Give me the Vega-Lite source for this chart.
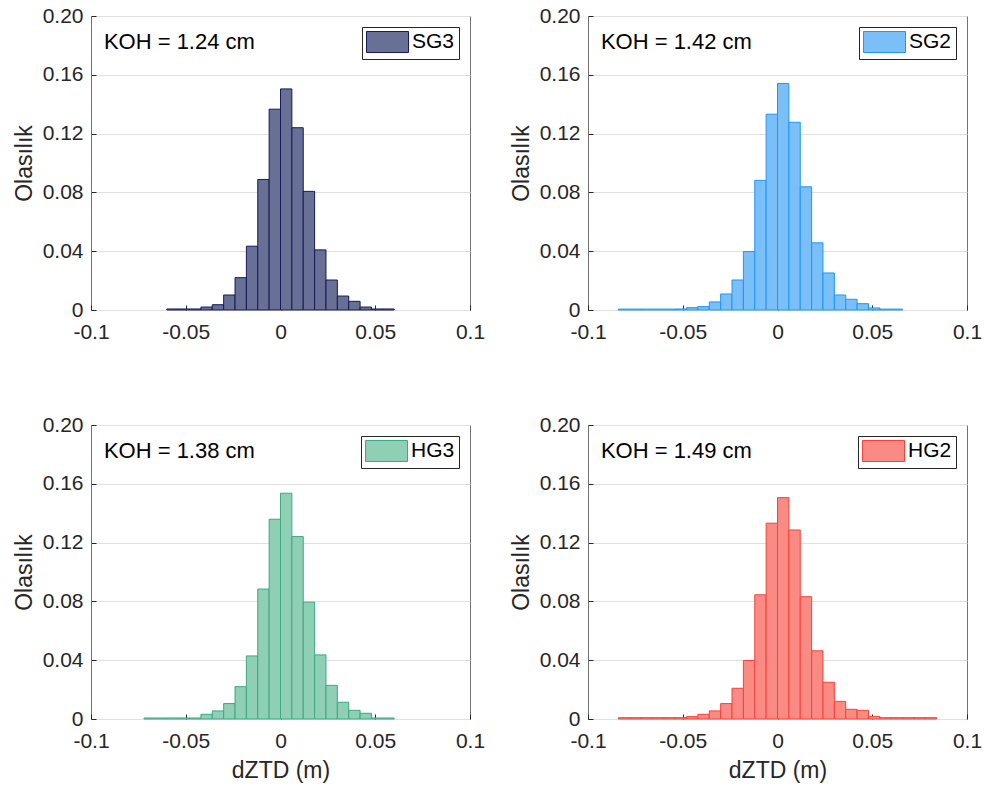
{
  "$schema": "https://vega.github.io/schema/vega-lite/v6.json",
  "background": "white",
  "padding": {"left": 12, "top": 4, "right": 0, "bottom": 0},
  "spacing": {"row": 70, "column": 23},
  "resolve": {"scale": {"fill": "independent"}, "legend": {"fill": "independent"}},
  "config": {
    "font": "Liberation Sans",
    "view": {"stroke": "#737373", "strokeWidth": 1},
    "axis": {
      "labelFont": "Liberation Sans", "titleFont": "Liberation Sans",
      "labelFontSize": 21, "titleFontSize": 23, "titleFontWeight": "normal",
      "labelColor": "#262626", "titleColor": "#262626",
      "domain": false, "tickColor": "#262626", "tickSize": -5, "grid": false
    },
    "axisX": {"labelPadding": 16, "titlePadding": 8, "labelFlush": false},
    "axisY": {"grid": true, "gridColor": "#e0e0e0", "labelPadding": 13, "titlePadding": 6},
    "legend": {
      "orient": "top-right", "offset": 11, "padding": 4,
      "strokeColor": "#262626", "fillColor": "white",
      "labelFont": "Liberation Sans", "labelFontSize": 21, "labelColor": "#000000",
      "symbolType": "M-1,-1H3V1H-1Z", "symbolSize": 441, "labelOffset": 24,
      "symbolOpacity": 1, "symbolStrokeWidth": 1
    }
  },
  "datasets": {
    "hist": [
      {"s": "SG3", "a": -0.060, "b": -0.054, "p": 0.0007},
      {"s": "SG3", "a": -0.054, "b": -0.048, "p": 0.0007},
      {"s": "SG3", "a": -0.048, "b": -0.042, "p": 0.0007},
      {"s": "SG3", "a": -0.042, "b": -0.036, "p": 0.0020},
      {"s": "SG3", "a": -0.036, "b": -0.030, "p": 0.0036},
      {"s": "SG3", "a": -0.030, "b": -0.024, "p": 0.0102},
      {"s": "SG3", "a": -0.024, "b": -0.018, "p": 0.0220},
      {"s": "SG3", "a": -0.018, "b": -0.012, "p": 0.0434},
      {"s": "SG3", "a": -0.012, "b": -0.006, "p": 0.0888},
      {"s": "SG3", "a": -0.006, "b": 0.000, "p": 0.1366},
      {"s": "SG3", "a": 0.000, "b": 0.006, "p": 0.1504},
      {"s": "SG3", "a": 0.006, "b": 0.012, "p": 0.1240},
      {"s": "SG3", "a": 0.012, "b": 0.018, "p": 0.0807},
      {"s": "SG3", "a": 0.018, "b": 0.024, "p": 0.0409},
      {"s": "SG3", "a": 0.024, "b": 0.030, "p": 0.0204},
      {"s": "SG3", "a": 0.030, "b": 0.036, "p": 0.0095},
      {"s": "SG3", "a": 0.036, "b": 0.042, "p": 0.0059},
      {"s": "SG3", "a": 0.042, "b": 0.048, "p": 0.0020},
      {"s": "SG3", "a": 0.048, "b": 0.054, "p": 0.0007},
      {"s": "SG3", "a": 0.054, "b": 0.060, "p": 0.0007},

      {"s": "SG2", "a": -0.084, "b": -0.078, "p": 0.0006},
      {"s": "SG2", "a": -0.078, "b": -0.072, "p": 0.0006},
      {"s": "SG2", "a": -0.072, "b": -0.066, "p": 0.0006},
      {"s": "SG2", "a": -0.066, "b": -0.060, "p": 0.0006},
      {"s": "SG2", "a": -0.060, "b": -0.054, "p": 0.0006},
      {"s": "SG2", "a": -0.054, "b": -0.048, "p": 0.0007},
      {"s": "SG2", "a": -0.048, "b": -0.042, "p": 0.0016},
      {"s": "SG2", "a": -0.042, "b": -0.036, "p": 0.0023},
      {"s": "SG2", "a": -0.036, "b": -0.030, "p": 0.0055},
      {"s": "SG2", "a": -0.030, "b": -0.024, "p": 0.0109},
      {"s": "SG2", "a": -0.024, "b": -0.018, "p": 0.0204},
      {"s": "SG2", "a": -0.018, "b": -0.012, "p": 0.0398},
      {"s": "SG2", "a": -0.012, "b": -0.006, "p": 0.0882},
      {"s": "SG2", "a": -0.006, "b": 0.000, "p": 0.1332},
      {"s": "SG2", "a": 0.000, "b": 0.006, "p": 0.1541},
      {"s": "SG2", "a": 0.006, "b": 0.012, "p": 0.1277},
      {"s": "SG2", "a": 0.012, "b": 0.018, "p": 0.0838},
      {"s": "SG2", "a": 0.018, "b": 0.024, "p": 0.0457},
      {"s": "SG2", "a": 0.024, "b": 0.030, "p": 0.0252},
      {"s": "SG2", "a": 0.030, "b": 0.036, "p": 0.0102},
      {"s": "SG2", "a": 0.036, "b": 0.042, "p": 0.0073},
      {"s": "SG2", "a": 0.042, "b": 0.048, "p": 0.0043},
      {"s": "SG2", "a": 0.048, "b": 0.054, "p": 0.0014},
      {"s": "SG2", "a": 0.054, "b": 0.060, "p": 0.0006},
      {"s": "SG2", "a": 0.060, "b": 0.066, "p": 0.0006},

      {"s": "HG3", "a": -0.072, "b": -0.066, "p": 0.0007},
      {"s": "HG3", "a": -0.066, "b": -0.060, "p": 0.0007},
      {"s": "HG3", "a": -0.060, "b": -0.054, "p": 0.0007},
      {"s": "HG3", "a": -0.054, "b": -0.048, "p": 0.0007},
      {"s": "HG3", "a": -0.048, "b": -0.042, "p": 0.0007},
      {"s": "HG3", "a": -0.042, "b": -0.036, "p": 0.0032},
      {"s": "HG3", "a": -0.036, "b": -0.030, "p": 0.0055},
      {"s": "HG3", "a": -0.030, "b": -0.024, "p": 0.0105},
      {"s": "HG3", "a": -0.024, "b": -0.018, "p": 0.0220},
      {"s": "HG3", "a": -0.018, "b": -0.012, "p": 0.0429},
      {"s": "HG3", "a": -0.012, "b": -0.006, "p": 0.0884},
      {"s": "HG3", "a": -0.006, "b": 0.000, "p": 0.1359},
      {"s": "HG3", "a": 0.000, "b": 0.006, "p": 0.1536},
      {"s": "HG3", "a": 0.006, "b": 0.012, "p": 0.1241},
      {"s": "HG3", "a": 0.012, "b": 0.018, "p": 0.0795},
      {"s": "HG3", "a": 0.018, "b": 0.024, "p": 0.0436},
      {"s": "HG3", "a": 0.024, "b": 0.030, "p": 0.0229},
      {"s": "HG3", "a": 0.030, "b": 0.036, "p": 0.0114},
      {"s": "HG3", "a": 0.036, "b": 0.042, "p": 0.0059},
      {"s": "HG3", "a": 0.042, "b": 0.048, "p": 0.0039},
      {"s": "HG3", "a": 0.048, "b": 0.054, "p": 0.0007},
      {"s": "HG3", "a": 0.054, "b": 0.060, "p": 0.0007},

      {"s": "HG2", "a": -0.084, "b": -0.078, "p": 0.0009},
      {"s": "HG2", "a": -0.078, "b": -0.072, "p": 0.0009},
      {"s": "HG2", "a": -0.072, "b": -0.066, "p": 0.0009},
      {"s": "HG2", "a": -0.066, "b": -0.060, "p": 0.0009},
      {"s": "HG2", "a": -0.060, "b": -0.054, "p": 0.0009},
      {"s": "HG2", "a": -0.054, "b": -0.048, "p": 0.0009},
      {"s": "HG2", "a": -0.048, "b": -0.042, "p": 0.0016},
      {"s": "HG2", "a": -0.042, "b": -0.036, "p": 0.0032},
      {"s": "HG2", "a": -0.036, "b": -0.030, "p": 0.0055},
      {"s": "HG2", "a": -0.030, "b": -0.024, "p": 0.0105},
      {"s": "HG2", "a": -0.024, "b": -0.018, "p": 0.0209},
      {"s": "HG2", "a": -0.018, "b": -0.012, "p": 0.0398},
      {"s": "HG2", "a": -0.012, "b": -0.006, "p": 0.0845},
      {"s": "HG2", "a": -0.006, "b": 0.000, "p": 0.1332},
      {"s": "HG2", "a": 0.000, "b": 0.006, "p": 0.1506},
      {"s": "HG2", "a": 0.006, "b": 0.012, "p": 0.1286},
      {"s": "HG2", "a": 0.012, "b": 0.018, "p": 0.0832},
      {"s": "HG2", "a": 0.018, "b": 0.024, "p": 0.0464},
      {"s": "HG2", "a": 0.024, "b": 0.030, "p": 0.0250},
      {"s": "HG2", "a": 0.030, "b": 0.036, "p": 0.0120},
      {"s": "HG2", "a": 0.036, "b": 0.042, "p": 0.0066},
      {"s": "HG2", "a": 0.042, "b": 0.048, "p": 0.0059},
      {"s": "HG2", "a": 0.048, "b": 0.054, "p": 0.0018},
      {"s": "HG2", "a": 0.054, "b": 0.060, "p": 0.0009},
      {"s": "HG2", "a": 0.060, "b": 0.066, "p": 0.0009},
      {"s": "HG2", "a": 0.066, "b": 0.072, "p": 0.0009},
      {"s": "HG2", "a": 0.072, "b": 0.078, "p": 0.0009},
      {"s": "HG2", "a": 0.078, "b": 0.084, "p": 0.0009}
    ],
    "koh": [
      {"s": "SG3", "t": "KOH = 1.24 cm"},
      {"s": "SG2", "t": "KOH = 1.42 cm"},
      {"s": "HG3", "t": "KOH = 1.38 cm"},
      {"s": "HG2", "t": "KOH = 1.49 cm"}
    ]
  },
  "columns": 2,
  "concat": [
    {
      "width": 379, "height": 294,
      "layer": [
        {
          "data": {"name": "hist"},
          "transform": [{"filter": "datum.s == 'SG3'"}],
          "mark": {"type": "rect", "stroke": "#151b5c", "strokeWidth": 1},
          "encoding": {
            "x": {"field": "a", "type": "quantitative", "scale": {"domain": [-0.1, 0.1], "nice": false}, "axis": {"values": [-0.1, -0.05, 0, 0.05, 0.1], "labelExpr": "'' + datum.value", "title": null}},
            "x2": {"field": "b"},
            "y": {"field": "p", "type": "quantitative", "scale": {"domain": [0, 0.2], "nice": false}, "axis": {"values": [0, 0.04, 0.08, 0.12, 0.16, 0.2], "labelExpr": "datum.value == 0 ? '0' : format(datum.value, '.2f')", "title": "Olasılık"}},
            "y2": {"datum": 0},
            "fill": {"field": "s", "type": "nominal", "scale": {"range": ["#687096"]}, "legend": {"title": null, "symbolStrokeColor": "#151b5c"}}
          }
        },
        {
          "data": {"name": "koh"},
          "transform": [{"filter": "datum.s == 'SG3'"}],
          "mark": {"type": "text", "align": "left", "baseline": "alphabetic", "font": "Liberation Sans", "fontSize": 22, "color": "#000000"},
          "encoding": {
            "x": {"datum": -0.0932, "type": "quantitative"},
            "y": {"datum": 0.1773, "type": "quantitative"},
            "text": {"field": "t"}
          }
        }
      ]
    },
    {
      "width": 379, "height": 294,
      "layer": [
        {
          "data": {"name": "hist"},
          "transform": [{"filter": "datum.s == 'SG2'"}],
          "mark": {"type": "rect", "stroke": "#2196f3", "strokeWidth": 1},
          "encoding": {
            "x": {"field": "a", "type": "quantitative", "scale": {"domain": [-0.1, 0.1], "nice": false}, "axis": {"values": [-0.1, -0.05, 0, 0.05, 0.1], "labelExpr": "'' + datum.value", "title": null}},
            "x2": {"field": "b"},
            "y": {"field": "p", "type": "quantitative", "scale": {"domain": [0, 0.2], "nice": false}, "axis": {"values": [0, 0.04, 0.08, 0.12, 0.16, 0.2], "labelExpr": "datum.value == 0 ? '0' : format(datum.value, '.2f')", "title": "Olasılık"}},
            "y2": {"datum": 0},
            "fill": {"field": "s", "type": "nominal", "scale": {"range": ["#7abff7"]}, "legend": {"title": null, "symbolStrokeColor": "#2196f3"}}
          }
        },
        {
          "data": {"name": "koh"},
          "transform": [{"filter": "datum.s == 'SG2'"}],
          "mark": {"type": "text", "align": "left", "baseline": "alphabetic", "font": "Liberation Sans", "fontSize": 22, "color": "#000000"},
          "encoding": {
            "x": {"datum": -0.0932, "type": "quantitative"},
            "y": {"datum": 0.1773, "type": "quantitative"},
            "text": {"field": "t"}
          }
        }
      ]
    },
    {
      "width": 379, "height": 294,
      "layer": [
        {
          "data": {"name": "hist"},
          "transform": [{"filter": "datum.s == 'HG3'"}],
          "mark": {"type": "rect", "stroke": "#3daa80", "strokeWidth": 1},
          "encoding": {
            "x": {"field": "a", "type": "quantitative", "scale": {"domain": [-0.1, 0.1], "nice": false}, "axis": {"values": [-0.1, -0.05, 0, 0.05, 0.1], "labelExpr": "'' + datum.value", "title": "dZTD (m)"}},
            "x2": {"field": "b"},
            "y": {"field": "p", "type": "quantitative", "scale": {"domain": [0, 0.2], "nice": false}, "axis": {"values": [0, 0.04, 0.08, 0.12, 0.16, 0.2], "labelExpr": "datum.value == 0 ? '0' : format(datum.value, '.2f')", "title": "Olasılık"}},
            "y2": {"datum": 0},
            "fill": {"field": "s", "type": "nominal", "scale": {"range": ["#8ecfb5"]}, "legend": {"title": null, "symbolStrokeColor": "#3daa80"}}
          }
        },
        {
          "data": {"name": "koh"},
          "transform": [{"filter": "datum.s == 'HG3'"}],
          "mark": {"type": "text", "align": "left", "baseline": "alphabetic", "font": "Liberation Sans", "fontSize": 22, "color": "#000000"},
          "encoding": {
            "x": {"datum": -0.0932, "type": "quantitative"},
            "y": {"datum": 0.1773, "type": "quantitative"},
            "text": {"field": "t"}
          }
        }
      ]
    },
    {
      "width": 379, "height": 294,
      "layer": [
        {
          "data": {"name": "hist"},
          "transform": [{"filter": "datum.s == 'HG2'"}],
          "mark": {"type": "rect", "stroke": "#f4433a", "strokeWidth": 1},
          "encoding": {
            "x": {"field": "a", "type": "quantitative", "scale": {"domain": [-0.1, 0.1], "nice": false}, "axis": {"values": [-0.1, -0.05, 0, 0.05, 0.1], "labelExpr": "'' + datum.value", "title": "dZTD (m)"}},
            "x2": {"field": "b"},
            "y": {"field": "p", "type": "quantitative", "scale": {"domain": [0, 0.2], "nice": false}, "axis": {"values": [0, 0.04, 0.08, 0.12, 0.16, 0.2], "labelExpr": "datum.value == 0 ? '0' : format(datum.value, '.2f')", "title": "Olasılık"}},
            "y2": {"datum": 0},
            "fill": {"field": "s", "type": "nominal", "scale": {"range": ["#f98b84"]}, "legend": {"title": null, "symbolStrokeColor": "#f4433a"}}
          }
        },
        {
          "data": {"name": "koh"},
          "transform": [{"filter": "datum.s == 'HG2'"}],
          "mark": {"type": "text", "align": "left", "baseline": "alphabetic", "font": "Liberation Sans", "fontSize": 22, "color": "#000000"},
          "encoding": {
            "x": {"datum": -0.0932, "type": "quantitative"},
            "y": {"datum": 0.1773, "type": "quantitative"},
            "text": {"field": "t"}
          }
        }
      ]
    }
  ]
}
